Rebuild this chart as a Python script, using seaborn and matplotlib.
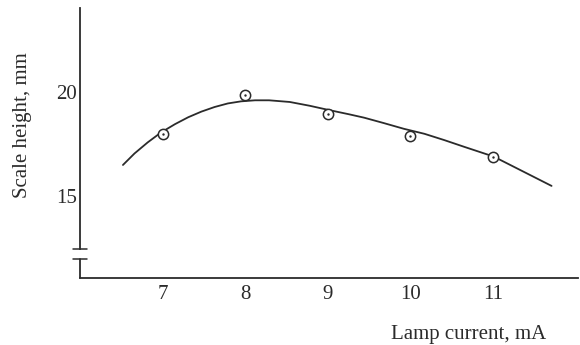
import matplotlib
matplotlib.use("Agg")
import matplotlib.pyplot as plt
import seaborn as sns
import pandas as pd

# measured points
current_pts = [7, 8, 9, 10, 11]
height_pts = [18.0, 19.85, 18.93, 17.88, 16.9]

# fitted curve
curve_x = [6.52, 6.66, 6.82, 6.98, 7.15, 7.31, 7.47, 7.63, 7.79, 7.95, 8.12,
           8.29, 8.54, 8.78, 9.02, 9.26, 9.44, 9.68, 9.92, 10.17, 10.41,
           10.65, 11.01, 11.35, 11.71]
curve_y = [16.50, 17.05, 17.58, 18.05, 18.45, 18.78, 19.05, 19.27, 19.44,
           19.54, 19.59, 19.59, 19.51, 19.33, 19.12, 18.92, 18.76, 18.50,
           18.23, 17.99, 17.69, 17.37, 16.90, 16.22, 15.50]

x_ticks = [7, 8, 9, 10, 11]
y_ticks = [15, 20]

sns.set_theme(style="white")
plt.rcParams['font.family'] = ['Liberation Serif', 'DejaVu Serif']

W, H = 580, 345
fig = plt.figure(figsize=(W / 100, H / 100), dpi=100)
ax = fig.add_axes([80 / W, (H - 278) / H, (578 - 80) / W, (278 - 8) / H])

ink = "#2b2b2b"
pts = pd.DataFrame({"x": current_pts, "y": height_pts})
crv = pd.DataFrame({"x": curve_x, "y": curve_y})

sns.lineplot(data=crv, x="x", y="y", ax=ax, color=ink, lw=1.3, sort=False)
sns.scatterplot(data=pts, x="x", y="y", ax=ax, marker="o", s=55,
                facecolor="white", edgecolor=ink, linewidth=1.1, zorder=3)
sns.scatterplot(data=pts, x="x", y="y", ax=ax, marker="o", s=3,
                color=ink, linewidth=0, zorder=4)

ax.set_xlim(6.0, 12.03)
ax.set_ylim(11.1, 24.0)
ax.set_xticks(x_ticks)
ax.set_yticks(y_ticks)
ax.set_xlabel("")
ax.set_ylabel("")

for s in ["top", "right"]:
    ax.spines[s].set_visible(False)
for s in ["left", "bottom"]:
    ax.spines[s].set_color(ink)
    ax.spines[s].set_linewidth(1.3)

# broken y axis
ax.spines["left"].set_bounds(12.5, 24.0)
tr = ax.get_yaxis_transform()
cap = 7 / (578 - 80)
ax.plot([0, 0], [11.1, 12.02], color=ink, lw=1.3, transform=tr, clip_on=False)
ax.plot([-cap, cap], [12.02, 12.02], color=ink, lw=1.1, transform=tr, clip_on=False)
ax.plot([-cap, cap], [12.5, 12.5], color=ink, lw=1.1, transform=tr, clip_on=False)

ax.tick_params(axis="both", direction="in", length=6, width=1.1, color=ink,
               labelsize=15, labelcolor=ink)
ax.tick_params(axis="x", pad=5)
ax.tick_params(axis="y", pad=2)

fig.text(23 / W, 1 - 125 / H, "Scale height, mm", rotation=90, ha="center",
         va="center", fontsize=15, color=ink)
fig.text(546 / W, 1 - 335 / H, "Lamp current, mA", ha="right", va="center",
         fontsize=15, color=ink)

fig.savefig("out.png", dpi=100, facecolor="white")
